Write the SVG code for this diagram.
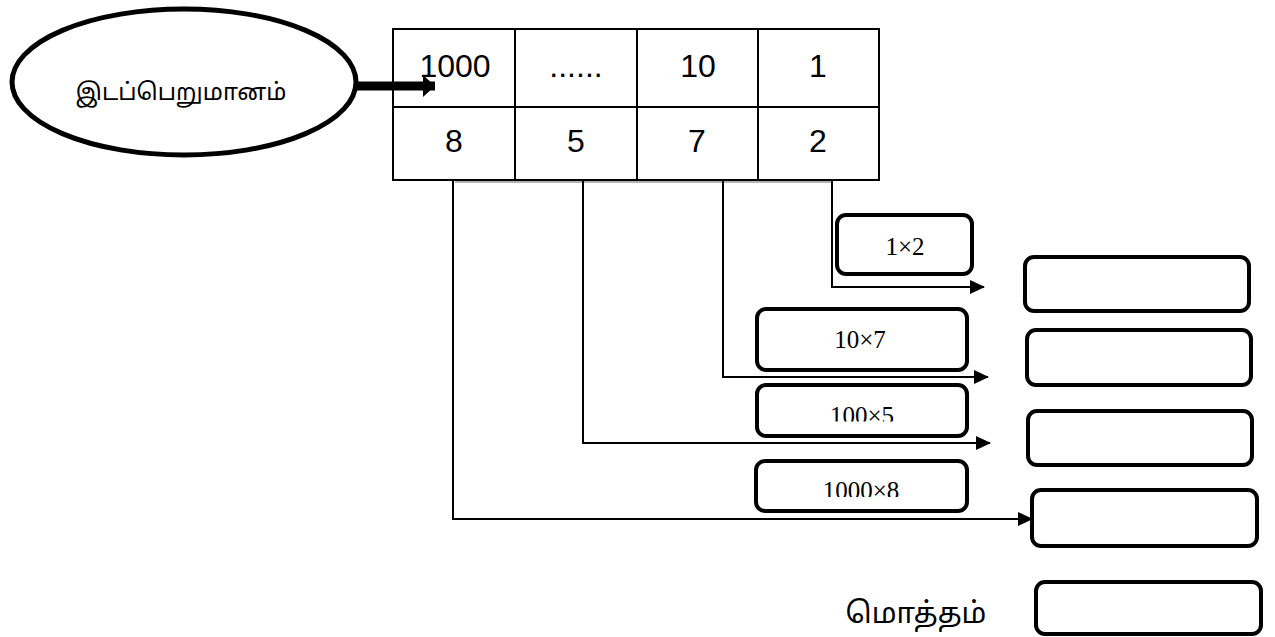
<svg xmlns="http://www.w3.org/2000/svg" width="1275" height="637" viewBox="0 0 1275 637">
<style>
.cell{font-family:"Liberation Sans",Arial,sans-serif;font-size:32px;fill:#000;text-anchor:middle}
.mul{font-family:"Liberation Serif","Times New Roman",serif;font-size:25px;fill:#000;text-anchor:middle}
.ta{font-family:"Noto Sans Tamil","Noto Sans","Lohit Tamil",sans-serif;fill:#000;text-anchor:middle}
.rbox{fill:#fff;stroke:#000;stroke-width:4}
.conn{fill:none;stroke:#000;stroke-width:2}
.grid{fill:none;stroke:#000;stroke-width:2}
</style>
<defs>
<marker id="ah" markerWidth="15" markerHeight="15" refX="14" refY="7" orient="auto" markerUnits="userSpaceOnUse">
<path d="M0,0 L15,7 L0,14 Z" fill="#000"/>
</marker>
<marker id="ahBig" markerWidth="13" markerHeight="22" refX="12" refY="11" orient="auto" markerUnits="userSpaceOnUse">
<path d="M0,0 L12,11 L0,22 Z" fill="#000"/>
</marker>
<clipPath id="clip5"><rect x="757" y="385" width="210" height="36.5"/></clipPath>
<clipPath id="clip8"><rect x="756" y="461" width="211" height="36"/></clipPath>
</defs>
<rect width="1275" height="637" fill="#fff"/>

<g id="source">
<ellipse cx="184" cy="82" rx="172" ry="73" fill="#fff" stroke="#000" stroke-width="5"/>
<text class="ta" x="181" y="100" font-size="23.5">இடப்பெறுமானம்</text>
</g>

<g id="table">
<rect class="grid" x="393" y="29" width="486" height="151"/>
<line class="grid" x1="393" y1="107" x2="879" y2="107"/>
<line class="grid" x1="515" y1="29" x2="515" y2="180"/>
<line class="grid" x1="637" y1="29" x2="637" y2="180"/>
<line class="grid" x1="758" y1="29" x2="758" y2="180"/>
<text class="cell" x="455" y="77">1000</text>
<text class="cell" x="576" y="77">......</text>
<text class="cell" x="698" y="77">10</text>
<text class="cell" x="818" y="77">1</text>
<text class="cell" x="454" y="152">8</text>
<text class="cell" x="576" y="152">5</text>
<text class="cell" x="697" y="152">7</text>
<text class="cell" x="818" y="152">2</text>
</g>

<g id="connectors">
<line x1="357" y1="86" x2="435" y2="86" stroke="#000" stroke-width="9" marker-end="url(#ahBig)"/>
<line x1="455" y1="182" x2="832" y2="182" stroke="#666" stroke-width="1"/>
<path class="conn" d="M832,181 V287 H984" stroke-width="2.5" marker-end="url(#ah)"/>
<path class="conn" d="M723,181 V377 H988" marker-end="url(#ah)"/>
<path class="conn" d="M583,181 V443 H990" marker-end="url(#ah)"/>
<path class="conn" d="M453,181 V519 H1032" marker-end="url(#ah)"/>
</g>

<g id="m1">
<rect class="rbox" x="837" y="215" width="135" height="59" rx="9"/>
<text class="mul" x="905" y="255" font-size="27">1×2</text>
</g>
<g id="m2">
<rect class="rbox" x="757" y="309" width="210" height="61" rx="9"/>
<text class="mul" x="860" y="348">10×7</text>
</g>
<g id="m3">
<rect class="rbox" x="757" y="385" width="210" height="51" rx="9"/>
<text class="mul" x="862" y="423.5" clip-path="url(#clip5)">100×5</text>
</g>
<g id="m4">
<rect class="rbox" x="756" y="461" width="211" height="50" rx="9"/>
<text class="mul" x="861" y="498.5" clip-path="url(#clip8)">1000×8</text>
</g>

<g id="r1"><rect class="rbox" x="1025" y="257" width="224" height="54" rx="9"/></g>
<g id="r2"><rect class="rbox" x="1027" y="330" width="224" height="55" rx="9"/></g>
<g id="r3"><rect class="rbox" x="1028" y="411" width="224" height="54" rx="9"/></g>
<g id="r4"><rect class="rbox" x="1032" y="490" width="225" height="56" rx="9"/></g>

<g id="total">
<text class="ta" x="916" y="623" font-size="29">மொத்தம்</text>
<rect class="rbox" x="1036" y="582" width="225" height="52" rx="9"/>
</g>
</svg>
